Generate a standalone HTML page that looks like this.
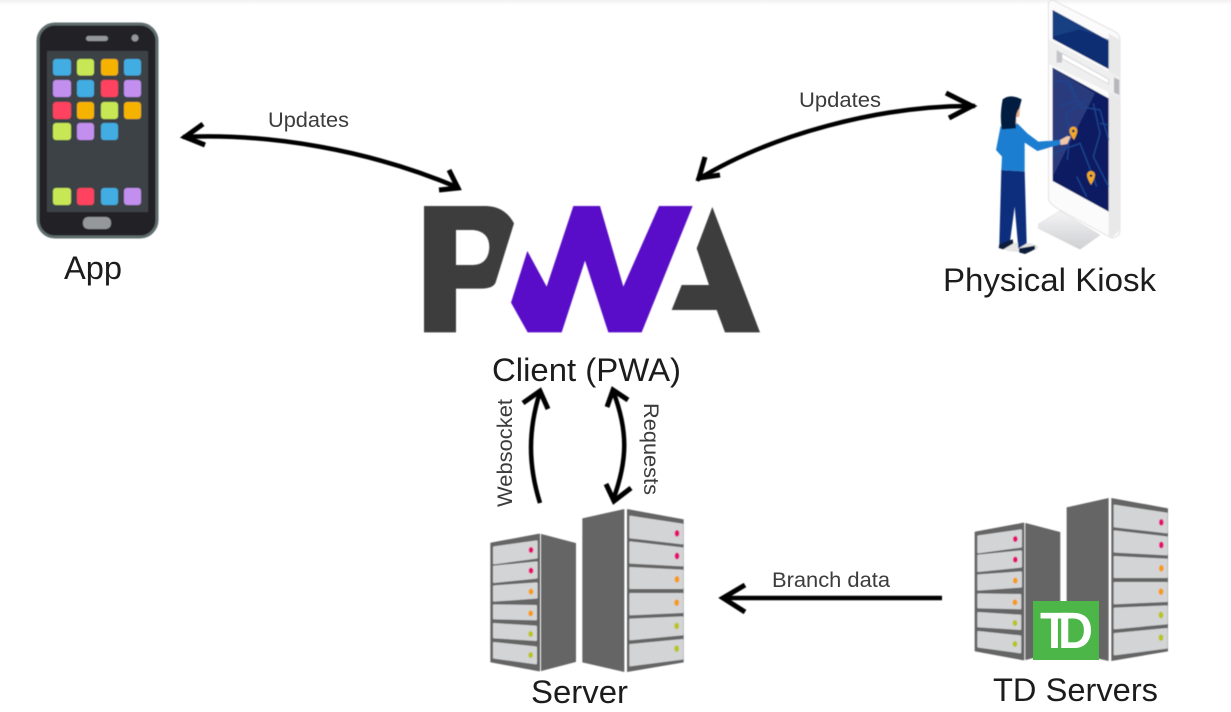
<!DOCTYPE html>
<html>
<head>
<meta charset="utf-8">
<style>
html,body{margin:0;padding:0;background:#fff;width:1231px;height:712px;overflow:hidden}
svg{display:block}
text{font-family:"Liberation Sans",Arial,sans-serif}
.big{font-size:32.5px;fill:#1c1c1c}
.small{font-size:21.5px;fill:#3c3c3c}
.arrow{fill:none;stroke:#000;stroke-width:4.500;stroke-linecap:butt;stroke-linejoin:miter}
.head{fill:none;stroke:#000;stroke-width:5;stroke-linecap:butt;stroke-linejoin:miter}
.shelf{fill:#d3d4d5;stroke:#d3d4d5;stroke-width:6;stroke-linejoin:round}
</style>
</head>
<body>
<svg width="1231" height="712" viewBox="0 0 1231 712" xmlns="http://www.w3.org/2000/svg">
<defs>
<filter id="b1" x="-5%" y="-5%" width="110%" height="110%"><feGaussianBlur stdDeviation="0.5"/></filter>
<filter id="b2" x="-5%" y="-5%" width="110%" height="110%"><feGaussianBlur stdDeviation="1.800"/></filter>
<linearGradient id="top" x1="0" y1="0" x2="0" y2="1"><stop offset="0" stop-color="#f1f1f1"/><stop offset="1" stop-color="#fff"/></linearGradient>
<linearGradient id="base" x1="0" y1="0" x2="0" y2="1"><stop offset="0" stop-color="#f4f4f5"/><stop offset="1" stop-color="#cfd0d3"/></linearGradient>
<g id="server">
<polygon points="33,130 178,103 178,512 33,485" fill="#656565" stroke="#656565" stroke-width="4" stroke-linejoin="round"/>
<polygon points="184,103 287,130 287,485 184,512" fill="#656565" stroke="#656565" stroke-width="2" stroke-linejoin="round"/>
<polygon points="307,55 433,27 433,516 307,487" fill="#656565"/>
<polygon points="441,27 611,58 611,487 441,516" fill="#656565"/>
<polygon class="shelf" points="42,142 170,124 170,173 42,190"/>
<polygon class="shelf" points="42,200 170,187 170,233 42,246"/>
<polygon class="shelf" points="42,259 170,250 170,293 42,302"/>
<polygon class="shelf" points="42,316 168,318 168,358 42,355"/>
<polygon class="shelf" points="42,372 168,380 168,420 42,412"/>
<polygon class="shelf" points="42,429 168,442 168,490 42,473"/>
<ellipse cx="153" cy="150" rx="7" ry="9" fill="#e6106f"/>
<ellipse cx="153" cy="212" rx="7" ry="9" fill="#e6106f"/>
<ellipse cx="153" cy="275" rx="7" ry="9" fill="#f89a12"/>
<ellipse cx="152" cy="340" rx="7" ry="9" fill="#f89a12"/>
<ellipse cx="152" cy="402" rx="7" ry="9" fill="#b9c41c"/>
<ellipse cx="152" cy="465" rx="7" ry="9" fill="#b9c41c"/>
<polygon class="shelf" points="451,50 607,74 607,130 451,112"/>
<polygon class="shelf" points="451,127 607,145 607,196 451,188"/>
<polygon class="shelf" points="451,204 607,212 607,264 451,264"/>
<polygon class="shelf" points="451,282 607,282 607,336 451,343"/>
<polygon class="shelf" points="451,359 607,352 607,403 451,418"/>
<polygon class="shelf" points="451,435 607,420 607,476 451,496"/>
<ellipse cx="591" cy="100" rx="7" ry="10" fill="#e6106f"/>
<ellipse cx="591" cy="168" rx="7" ry="10" fill="#e6106f"/>
<ellipse cx="591" cy="238" rx="7" ry="10" fill="#f89a12"/>
<ellipse cx="590" cy="308" rx="7" ry="10" fill="#f89a12"/>
<ellipse cx="590" cy="378" rx="7" ry="10" fill="#b9c41c"/>
<ellipse cx="590" cy="446" rx="7" ry="10" fill="#b9c41c"/>
</g>
</defs>

<rect x="0" y="0" width="1231" height="5" fill="url(#top)"/>

<!-- Phone -->
<g filter="url(#b1)">
<rect x="38" y="24" width="119" height="213" rx="17" fill="#212426" stroke="#5f6d6d" stroke-width="3"/>
<rect x="47" y="51" width="101" height="161" fill="#3e4347"/>
<rect x="86" y="36" width="22" height="5" rx="2.5" fill="#94989b"/>
<circle cx="135" cy="38" r="3.5" fill="#94989b"/>
<rect x="83" y="217" width="28" height="12" rx="5" fill="#94989b"/>
<rect x="53" y="59" width="18" height="16.500" rx="3" fill="#42ade2"/>
<rect x="77" y="59" width="17" height="16.500" rx="3" fill="#c7e755"/>
<rect x="101" y="59" width="17" height="16.500" rx="3" fill="#f5b300"/>
<rect x="124" y="59" width="17" height="16.500" rx="3" fill="#42ade2"/>
<rect x="53" y="80" width="18" height="17" rx="3" fill="#c28fef"/>
<rect x="77" y="80" width="17" height="17" rx="3" fill="#42ade2"/>
<rect x="101" y="80" width="17" height="17" rx="3" fill="#ff435e"/>
<rect x="124" y="80" width="17" height="17" rx="3" fill="#c28fef"/>
<rect x="53" y="102" width="18" height="17" rx="3" fill="#ff435e"/>
<rect x="77" y="102" width="17" height="17" rx="3" fill="#f5b300"/>
<rect x="101" y="102" width="17" height="17" rx="3" fill="#c7e755"/>
<rect x="124" y="102" width="17" height="17" rx="3" fill="#f5b300"/>
<rect x="53" y="123" width="18" height="17" rx="3" fill="#c7e755"/>
<rect x="77" y="123" width="17" height="17" rx="3" fill="#c28fef"/>
<rect x="101" y="123" width="17" height="17" rx="3" fill="#42ade2"/>
<rect x="53" y="188" width="18" height="17" rx="3" fill="#c7e755"/>
<rect x="77" y="188" width="17" height="17" rx="3" fill="#ff435e"/>
<rect x="101" y="188" width="17" height="17" rx="3" fill="#42ade2"/>
<rect x="124" y="188" width="17" height="17" rx="3" fill="#c28fef"/>
</g>

<!-- Kiosk -->
<g transform="translate(980,0) scale(0.33333)" filter="url(#b2)">
<ellipse cx="120" cy="742" rx="55" ry="14" fill="#e6e6e6"/>
<path d="M205,12 Q205,0 222,2 L405,95 Q420,104 420,120 L420,690 Q420,712 395,714 L240,630 Q205,610 205,595 Z" fill="#fbfbfb" stroke="#d4d4d6" stroke-width="2"/>
<polygon points="386,100 420,120 420,690 395,714 386,708" fill="#e9e9ea"/>
<polygon points="175,672 240,632 360,705 300,748 175,685" fill="url(#base)" stroke="#c9cacc" stroke-width="1"/>
<polygon points="205,118 420,232 420,292 205,190" fill="#efeff0"/>
<polygon points="402,232 418,240 418,285 402,278" fill="#b5b7bb"/>
<polygon points="230,150 246,160 246,188 230,188" fill="#c3c5c9"/>
<polygon points="246,160 386,238 386,252 246,176" fill="#fff" stroke="#c7c8cb" stroke-width="2"/>
<polygon points="218,30 386,122 386,207 218,117" fill="#0b2f73"/>
<polygon points="218,30 386,122 386,118 300,88 218,110" fill="#28508f" opacity=".5"/>
<polygon points="218,203 386,295 386,635 218,543" fill="#091a62"/>
<polygon points="218,203 345,280 218,530" fill="#2a3a7d"/>
<g fill="none" stroke="#1f4590" stroke-width="4">
<path d="M218,240 L270,250 L300,320 L360,330 L386,420"/>
<path d="M260,240 L290,300 L240,320"/>
<path d="M320,300 L260,340 L270,400 L262,480"/>
<path d="M340,310 L360,400 L340,470 L386,560"/>
<path d="M218,460 L300,430 L320,480 L350,560"/>
<path d="M290,530 L320,590"/>
<path d="M360,370 L386,375"/>
</g>
<path d="M268,392 a12,12 0 0 1 24,0 q0,10 -10,28 q-14,-18 -14,-28z" fill="#f0a92a"/>
<circle cx="280" cy="393" r="4" fill="#0a1c5c"/>
<path d="M321,525 a12,12 0 0 1 24,0 q0,10 -12,30 q-12,-20 -12,-30z" fill="#f0a92a"/>
<circle cx="333" cy="527" r="4" fill="#0a1c5c"/>
<!-- woman -->
<path d="M64,510 L134,514 L140,730 L115,745 L104,620 L90,725 L58,732 Z" fill="#0c2f7c"/>
<path d="M58,732 L98,718 L100,730 L70,748 L56,744 Z" fill="#0a1c3a"/>
<path d="M117,745 L165,737 L165,748 L135,762 L117,757 Z" fill="#0a1c3a"/>
<path d="M62,378 L112,370 L142,400 L175,425 L240,420 L242,433 L172,453 L134,428 L134,514 L64,510 L66,470 L48,450 Z" fill="#1f7ed0"/>
<path d="M240,420 L262,408 L272,410 L262,432 L242,435 Z" fill="#f1c8a8"/>
<path d="M100,305 L120,320 L118,350 L108,352 L110,372 L92,380 Z" fill="#e8b090"/>
<path d="M68,298 Q90,280 125,298 L118,325 Q104,340 108,385 L66,388 Q58,350 68,298 Z" fill="#061f3f"/>
</g>

<!-- PWA logo -->
<g transform="translate(410,195) scale(0.33333)" filter="url(#b2)">
<title>PWA</title>
<path fill-rule="evenodd" d="M42,33 L230,33 Q285,35 312,85 L257,262 Q250,280 215,281 L138,281 L138,412 L42,412 Z M138,105 L190,105 Q238,110 238,157 Q235,208 190,210 L138,210 Z" fill="#3e3e3e"/>
<polygon points="490,33 570,33 640,275 747,33 848,33 695,412 595,412 525,197 455,412 353,412 303,323 352,168 410,275" fill="#5a0fc8"/>
<polygon points="907,36 1050,412 945,412 920,345 785,345 815,270 897,270 860,160" fill="#3e3e3e"/>
</g>

<!-- Servers -->
<use href="#server" transform="translate(480,500) scale(0.33333)" filter="url(#b2)"/>
<use href="#server" transform="translate(964.300,489) scale(0.33333)" filter="url(#b2)"/>
<rect x="1033" y="601" width="66" height="59" fill="#4cb648"/>
<text x="1040" y="648" font-size="51" font-weight="bold" fill="#fff" textLength="29" lengthAdjust="spacingAndGlyphs">T</text>
<text x="1058" y="648" font-size="51" font-weight="bold" fill="#fff" textLength="35" lengthAdjust="spacingAndGlyphs">D</text>

<!-- Arrows -->
<g filter="url(#b1)">
<path class="arrow" d="M183,137 C270,133 370,150 459,188"/>
<path class="head" d="M203,124 L185,137 L205,145"/>
<path class="head" d="M449,170 L458,188 L439,190"/>
<path class="arrow" d="M697,180 C770,135 880,105 975,106"/>
<path class="head" d="M946,93 L972,106 L949,118"/>
<path class="head" d="M705,157 L699,178 L720,175"/>
<path class="arrow" d="M540,503 C528,465 528,430 540,392"/>
<path class="head" d="M523,403 L540,391 L548,409"/>
<path class="arrow" d="M613,391 C628,430 628,460 613,500"/>
<path class="head" d="M607,407 L613,390 L628,400"/>
<path class="head" d="M606,484 L614,501 L631,488"/>
<path class="arrow" d="M942,598 L722,598"/>
<path class="head" d="M745,585 L723,598 L745,612"/>
</g>

<!-- Labels -->
<text class="big" x="64" y="279" textLength="58" lengthAdjust="spacingAndGlyphs">App</text>
<text class="big" x="943" y="291" textLength="213" lengthAdjust="spacingAndGlyphs">Physical Kiosk</text>
<text class="big" x="492" y="381" textLength="189" lengthAdjust="spacingAndGlyphs">Client (PWA)</text>
<text class="big" x="531" y="703" textLength="97" lengthAdjust="spacingAndGlyphs">Server</text>
<text class="big" x="993" y="701" textLength="165" lengthAdjust="spacingAndGlyphs">TD Servers</text>
<text class="small" x="268" y="127" textLength="81" lengthAdjust="spacingAndGlyphs">Updates</text>
<text class="small" x="799" y="107" textLength="82" lengthAdjust="spacingAndGlyphs">Updates</text>
<text class="small" x="772" y="587" textLength="118" lengthAdjust="spacingAndGlyphs">Branch data</text>
<text class="small" transform="translate(512,507) rotate(-90)" textLength="108" lengthAdjust="spacingAndGlyphs">Websocket</text>
<text class="small" transform="translate(644,403) rotate(90)" textLength="92" lengthAdjust="spacingAndGlyphs">Requests</text>
</svg>
</body>
</html>
